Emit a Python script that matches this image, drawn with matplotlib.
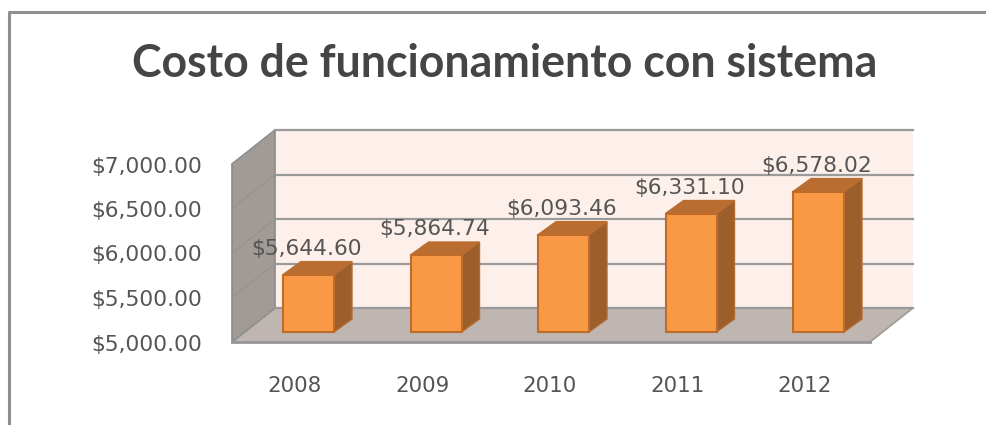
import matplotlib
matplotlib.use('Agg')
import matplotlib.pyplot as plt
from matplotlib.patches import Polygon
from matplotlib.transforms import Affine2D

years = ['2008', '2009', '2010', '2011', '2012']
costs = [5644.60, 5864.74, 6093.46, 6331.10, 6578.02]
ticks = [5000, 5500, 6000, 6500, 7000]
title = 'Costo de funcionamiento con sistema'

W, H = 986, 425
# pixel scales of the fake 3D view
PX_PER_CAT = 127.5
PX_PER_USD = 0.089
X0_PX = 308.5      # centre of first bar
BASE_PX = 332      # bottom of bars, from the top of the image
BAR_W = 51 / PX_PER_CAT
GRAY = '#8f8f8f'
TEXT = '#555555'

plt.rcParams['font.family'] = ['DejaVu Sans']

fig = plt.figure(figsize=(W / 100, H / 100), dpi=100)
ax = fig.add_axes([0, 0, 1, 1])
ax.set_xlim(-X0_PX / PX_PER_CAT, (W - X0_PX) / PX_PER_CAT)
ax.set_ylim(5000 - (H - BASE_PX) / PX_PER_USD, 5000 + BASE_PX / PX_PER_USD)
ax.axis('off')


def shifted(dx, dy):
    # data coords + shift in pixels, for the depth of the 3D box
    return ax.transData + Affine2D().translate(dx, dy)


# outer frame of the chart, open on the right
fig.add_artist(plt.Line2D([8.5 / W, 8.5 / W, 1], [0, 1 - 11.5 / H, 1 - 11.5 / H], color=GRAY, lw=2.2))

left = -(X0_PX - 232) / PX_PER_CAT
right = (870 - X0_PX) / PX_PER_CAT
ymin, ymax = ticks[0], ticks[-1]
fx, fy = 0, -10    # axis front plane relative to bars
bx, by = 43, 24    # back wall relative to bars

# back wall
ax.add_patch(Polygon([(left, ymin), (right, ymin), (right, ymax), (left, ymax)], closed=True,
                     transform=shifted(bx, by), facecolor='#fdf0eb', edgecolor='none', zorder=1))

# floor and side wall, in display pixels because they run along the depth
x_l, y_b = ax.transData.transform((left, ymin))
x_r, _ = ax.transData.transform((right, ymin))
_, y_t = ax.transData.transform((left, ymax))
ax.add_patch(Polygon([(x_l + fx, y_b + fy), (x_r + fx, y_b + fy), (x_r + bx, y_b + by), (x_l + bx, y_b + by)],
                     closed=True, transform=None, facecolor='#bfb5b1', edgecolor='#a09a97', lw=1.2, zorder=2))
ax.add_patch(Polygon([(x_l + fx, y_b + fy), (x_l + bx, y_b + by), (x_l + bx, y_t + by), (x_l + fx, y_t + fy)],
                     closed=True, transform=None, facecolor='#a29a95', edgecolor='#8e8a88', lw=1.2, zorder=2))

# gridlines, on back wall and side wall
for t in ticks:
    _, yp = ax.transData.transform((left, t))
    ax.plot([x_l + fx, x_l + bx], [yp + fy, yp + by], transform=None, color='#8f9599', lw=0.9, zorder=3)
    ax.plot([left, right], [t, t], transform=shifted(bx, by), color='#9a9a9a', lw=1.6, zorder=2)
ax.plot([left, right], [ymin, ymin], transform=shifted(fx, fy), color='#979797', lw=2, zorder=3)

# bars
bar_dx, bar_dy = 18, 13
for i, (year, cost) in enumerate(zip(years, costs)):
    l, r = i - BAR_W / 2, i + BAR_W / 2
    ax.add_patch(Polygon([(l, ymin), (r, ymin), (r, cost), (l, cost)], closed=True,
                         facecolor='#f99945', edgecolor='#bf6c2b', lw=1.5, zorder=5))
    xl, yb = ax.transData.transform((l, ymin))
    xr, yt = ax.transData.transform((r, cost))
    ax.add_patch(Polygon([(xr, yb), (xr + bar_dx, yb + bar_dy), (xr + bar_dx, yt + bar_dy), (xr, yt)],
                         closed=True, transform=None, facecolor='#9c5f2b', edgecolor='#b56b30', lw=1, zorder=4))
    ax.add_patch(Polygon([(xl, yt), (xr, yt), (xr + bar_dx, yt + bar_dy), (xl + bar_dx, yt + bar_dy)],
                         closed=True, transform=None, facecolor='#b96d31', edgecolor='#b96d31', lw=1, zorder=4))
    ax.text(i - 1.5 / PX_PER_CAT, cost + 26 / PX_PER_USD, f'${cost:,.2f}', ha='center', va='center',
            fontsize=15.7, color=TEXT, zorder=6)
    ax.text(i - 13.5 / PX_PER_CAT, 5000 - 53.5 / PX_PER_USD, year, ha='center', va='center',
            fontsize=15.4, color=TEXT, zorder=6)

# value axis labels
for t in ticks:
    ax.text(-(X0_PX - 202) / PX_PER_CAT, t - 12.5 / PX_PER_USD, f'${t:,.2f}', ha='right', va='center',
            fontsize=15.7, color=TEXT, zorder=6)

fig.text(505 / W, 1 - 64 / H, title, ha='center', va='center', fontsize=32.1, fontweight='bold',
         family='Lato', color='#454545')

fig.savefig('out.png', dpi=100)
